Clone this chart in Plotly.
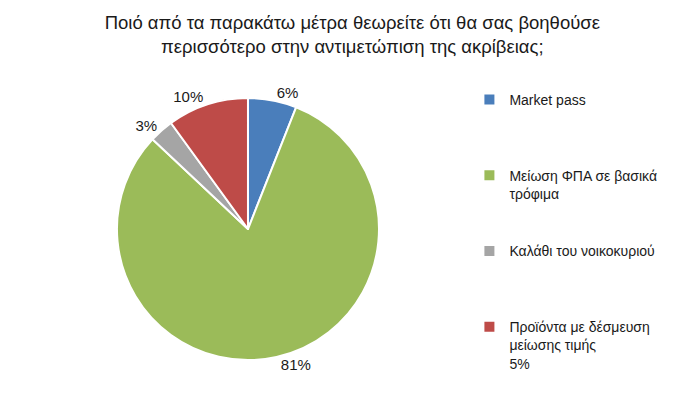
import plotly.graph_objects as go

title_lines = ["Ποιό από τα παρακάτω μέτρα θεωρείτε ότι θα σας βοηθούσε",
               "περισσότερο στην αντιμετώπιση της ακρίβειας;"]
categories = ["Market pass",
              "Μείωση ΦΠΑ σε βασικά<br>τρόφιμα",
              "Καλάθι του νοικοκυριού",
              "Προϊόντα με δέσμευση<br>μείωσης τιμής<br>5%"]
values = [6, 81, 3, 10]
colors = ["#4A7EBB", "#9BBB59", "#A5A5A5", "#BE4B48"]

FONT = "Liberation Sans, Arial, sans-serif"

# pad legend entries (except the last) with blank lines so entries are spaced evenly
n_lines = [c.count("<br>") + 1 for c in categories]
legend_labels = [c + "<br> " * (4 - n) if i < len(categories) - 1 else c
                 for i, (c, n) in enumerate(zip(categories, n_lines))]

fig = go.Figure(go.Pie(
    labels=legend_labels,
    values=values,
    sort=False,
    direction="clockwise",
    rotation=0,
    marker=dict(colors=colors, line=dict(color="white", width=2)),
    textposition="outside",
    texttemplate="%{value}%",
    textfont=dict(family=FONT, size=15, color="#1a1a1a"),
    domain=dict(x=[0.1513, 0.5373], y=[0.1177, 0.7744]),
    hoverinfo="label+percent",
))

fig.update_layout(
    width=697, height=399,
    margin=dict(l=0, r=0, t=0, b=0),
    paper_bgcolor="white",
    font=dict(family=FONT, color="#1a1a1a"),
    title=dict(text="<br>".join(title_lines), x=0.494, xanchor="center",
               xref="paper", yref="container",
               y=0.948, yanchor="middle",
               font=dict(family=FONT, size=18.5, color="#1a1a1a")),
    legend=dict(x=0.662, y=0.81, xanchor="left", yanchor="top",
                valign="top", font=dict(family=FONT, size=14, color="#1a1a1a"),
                tracegroupgap=0),
    showlegend=True,
)

fig.write_html("out.html")
